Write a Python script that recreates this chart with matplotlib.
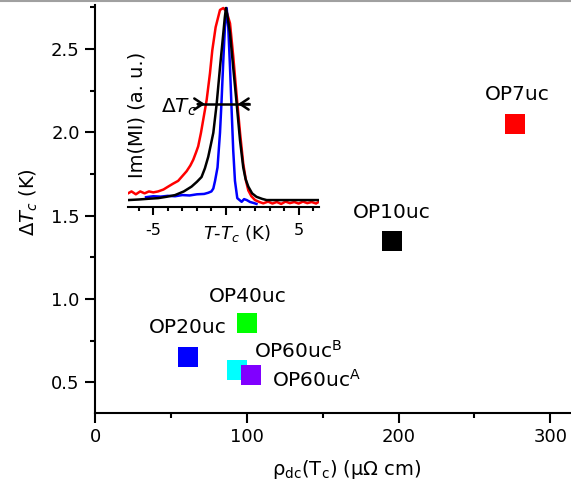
import matplotlib
matplotlib.use("Agg")
import matplotlib.pyplot as plt
from matplotlib.lines import Line2D
from matplotlib.ticker import MultipleLocator, FixedLocator

# main panel: transition width vs dc resistivity
samples = ["OP7uc", "OP10uc", "OP40uc", "OP20uc", "OP60uc$^{\\rm B}$", "OP60uc$^{\\rm A}$"]
rho_dc = [276.7, 195.8, 100.0, 61.0, 93.3, 102.8]
delta_tc = [2.052, 1.347, 0.853, 0.649, 0.571, 0.541]
colors = ["#ff0000", "#000000", "#00ff00", "#0000ff", "#00ffff", "#8000ff"]
# label offsets in points (dx, dy) and alignment
label_offsets = [(2, 16.8), (0, 16.9), (1, 15.5), (0, 17.6), (12.6, 8.8), (15.0, -7.9)]
label_ha = ["center", "center", "center", "center", "left", "left"]

# inset: Im(MI) vs T - Tc
t_red = [-6.74, -6.5, -6.2, -5.9, -5.6, -5.3, -5.0, -4.67, -4.3, -3.98, -3.65, -3.29, -3.0,
         -2.71, -2.45, -2.25, -2.05, -1.91, -1.72, -1.56, -1.33, -1.10, -0.94, -0.71, -0.41,
         -0.18, 0.05, 0.28, 0.50, 0.74, 0.97, 1.19, 1.38, 1.54, 1.75, 2.0, 2.3, 2.57, 2.9,
         3.2, 3.5, 3.8, 4.1, 4.4, 4.7, 5.0, 5.3, 5.6, 5.9, 6.2, 6.37]
v_red = [0.035, 0.045, 0.03, 0.045, 0.035, 0.045, 0.04, 0.045, 0.055, 0.07, 0.085, 0.10, 0.125,
         0.15, 0.18, 0.21, 0.25, 0.28, 0.35, 0.42, 0.52, 0.66, 0.78, 0.90, 0.99,
         1.0, 0.98, 0.92, 0.75, 0.54, 0.35, 0.19, 0.10, 0.05, 0.02, 0.0, -0.01, -0.017, -0.008,
         -0.018, -0.01, -0.02, -0.008, -0.016, -0.01, -0.018, -0.008, -0.016, -0.01, -0.018, -0.01]

t_black = [-6.74, -6.0, -5.3, -4.67, -4.1, -3.5, -2.9, -2.37, -2.0, -1.68, -1.45, -1.22, -1.05,
           -0.87, -0.64, -0.41, -0.18, -0.08, 0.0, 0.12, 0.28, 0.50, 0.74, 0.97, 1.19, 1.35,
           1.54, 1.8, 2.1, 2.5, 2.8, 4.0, 5.0, 6.37]
v_black = [0.0, 0.003, 0.007, 0.01, 0.017, 0.026, 0.045, 0.07, 0.095, 0.12, 0.165, 0.225, 0.285,
           0.35, 0.50, 0.69, 0.87, 0.95, 1.0, 0.95, 0.87, 0.69, 0.50, 0.31, 0.17, 0.11,
           0.07, 0.035, 0.017, 0.006, 0.0, 0.0, 0.0, 0.0]

t_blue = [-5.5, -5.0, -4.5, -4.0, -3.5, -3.0, -2.5, -2.0, -1.5, -1.22, -1.0, -0.87, -0.75,
          -0.58, -0.41, -0.30, -0.18, -0.07, 0.05, 0.16, 0.28, 0.39, 0.50, 0.62, 0.78, 1.08,
          1.25, 1.43, 1.66, 1.9, 2.1]
v_blue = [0.015, 0.02, 0.018, 0.022, 0.02, 0.026, 0.024, 0.03, 0.032, 0.038, 0.045, 0.06, 0.10,
          0.17, 0.35, 0.52, 0.73, 0.90, 1.0, 0.90, 0.69, 0.47, 0.26, 0.10, 0.01, -0.009,
          0.005, 0.0, -0.01, -0.015, -0.02]

# FWHM marker
fwhm_left, fwhm_right, fwhm_level = -1.95, 1.59, 0.5
arrow_left_tip, arrow_right_tip = -1.45, 0.83

fig = plt.figure(figsize=(5.71, 4.94), dpi=100)
ax = fig.add_axes([0.1664, 0.164, 0.8319, 0.8259])

for x, y, c in zip(rho_dc, delta_tc, colors):
    ax.plot(x, y, "s", color=c, ms=15, mew=0, zorder=3)
for x, y, name, off, ha in zip(rho_dc, delta_tc, samples, label_offsets, label_ha):
    ax.annotate(name, (x, y), xytext=off, textcoords="offset points",
                ha=ha, va="baseline", fontsize=14.5)

ax.set_xlim(0, 313)
ax.set_ylim(0.316, 2.764)
ax.xaxis.set_major_locator(MultipleLocator(100))
ax.xaxis.set_minor_locator(MultipleLocator(50))
ax.yaxis.set_major_locator(FixedLocator([0.5, 1.0, 1.5, 2.0, 2.5]))
ax.yaxis.set_minor_locator(MultipleLocator(0.25))
ax.yaxis.set_major_formatter(matplotlib.ticker.FormatStrFormatter("%.1f"))
for s in ["top", "right"]:
    ax.spines[s].set_visible(False)
for s in ["left", "bottom"]:
    ax.spines[s].set_linewidth(1.5)
ax.tick_params(which="major", direction="out", length=7, width=1.5, labelsize=13, pad=4)
ax.tick_params(which="minor", direction="out", length=3.5, width=1.5)

ax.set_xlabel("ρ$_{\\rm dc}$(T$_{\\rm c}$) (μΩ cm)", fontsize=14)
ax.xaxis.set_label_coords(0.53, -0.11)
ax.set_ylabel("Δ$T_c$ (K)", fontsize=14)
ax.yaxis.set_label_coords(-0.115, 0.517)

# inset
axin = fig.add_axes([0.2242, 0.581, 0.3336, 0.409])
axin.patch.set_alpha(0)
axin.plot(t_red, v_red, color="#ff0000", lw=1.8)
axin.plot(t_black, v_black, color="#000000", lw=1.8, zorder=3)
axin.plot(t_blue, v_blue, color="#0000ff", lw=1.8, zorder=2.5)
axin.set_xlim(-6.74, 6.37)
axin.set_ylim(-0.036, 1.016)

axin.plot([fwhm_left, fwhm_right], [fwhm_level, fwhm_level], color="k", lw=1.8, zorder=4)
axin.annotate("", xy=(arrow_left_tip, fwhm_level), xytext=(fwhm_left, fwhm_level),
              arrowprops=dict(arrowstyle="->,head_length=0.6,head_width=0.4", lw=1.8,
                              color="k", shrinkA=0, shrinkB=0), zorder=4)
axin.annotate("", xy=(arrow_right_tip, fwhm_level), xytext=(fwhm_right, fwhm_level),
              arrowprops=dict(arrowstyle="->,head_length=0.6,head_width=0.4", lw=1.8,
                              color="k", shrinkA=0, shrinkB=0), zorder=4)
axin.text(-2.0, 0.453, "Δ$T_c$", ha="right", va="baseline", fontsize=14.5)

for s in ["top", "right", "left"]:
    axin.spines[s].set_visible(False)
axin.spines["bottom"].set_linewidth(1.5)
axin.set_yticks([])
axin.xaxis.set_major_locator(FixedLocator([-5, 0, 5]))
axin.set_xticklabels(["-5", "", "5"])
axin.xaxis.set_minor_locator(MultipleLocator(1))
axin.tick_params(which="major", direction="out", length=5.5, width=1.5, labelsize=11.5, pad=6)
axin.tick_params(which="minor", direction="out", length=3, width=1.5)
axin.text(0.57, -0.16, "$T$-$T_c$ (K)", transform=axin.transAxes, ha="center",
          va="baseline", fontsize=13)
axin.text(0.046, 0.458, "Im(MI) (a. u.)", transform=axin.transAxes, ha="center",
          va="center", rotation=90, fontsize=14)

fig.add_artist(Line2D([0, 1], [0.998, 0.998], color="#a0a0a0", lw=1.5, transform=fig.transFigure))

fig.savefig("out.png", dpi=100)
